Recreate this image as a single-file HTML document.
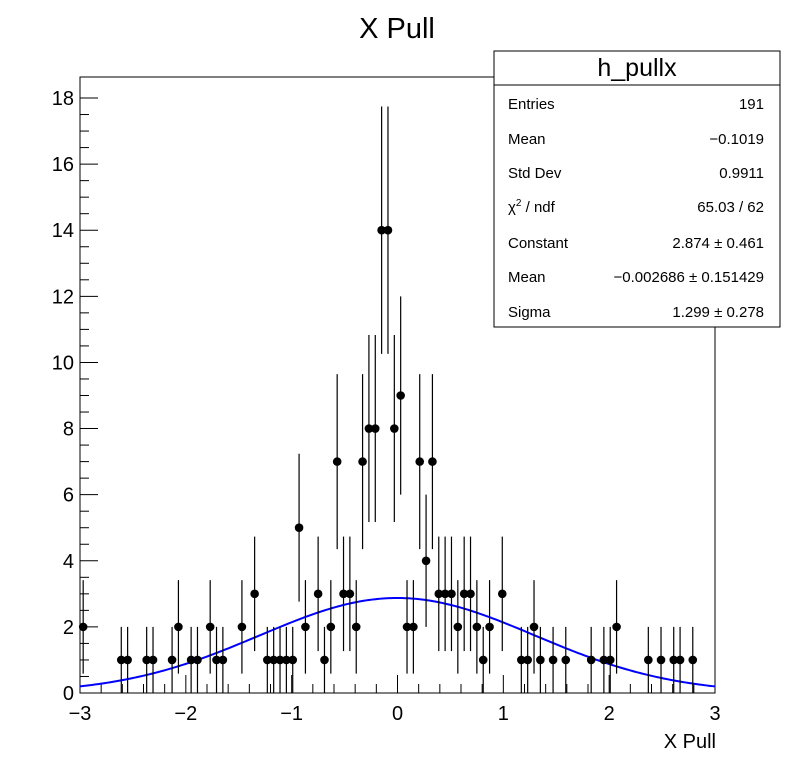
<!DOCTYPE html>
<html><head><meta charset="utf-8"><style>
body{margin:0;background:#fff;}
svg text{font-family:"Liberation Sans",sans-serif;}
</style></head><body>
<svg id="chart" width="796" height="772" viewBox="0 0 796 772" xmlns="http://www.w3.org/2000/svg">
<rect width="796" height="772" fill="#fff"/>
<text x="397" y="38" font-size="29" text-anchor="middle">X Pull</text>
<rect x="80" y="77" width="635" height="616" fill="none" stroke="#000" stroke-width="1"/>
<g id="axes"></g>
<g id="fit"></g>
<g id="points"></g>
<text x="716" y="748" font-size="20" text-anchor="end">X Pull</text>
<g>
<rect x="494" y="51" width="286" height="276" fill="#fff" stroke="#000"/>
<line x1="494" y1="85" x2="780" y2="85" stroke="#000"/>
<text x="637" y="76" font-size="25" text-anchor="middle">h_pullx</text>
<g font-size="15">
<text x="508" y="109">Entries</text><text x="764" y="109" text-anchor="end">191</text>
<text x="508" y="144">Mean</text><text x="764" y="144" text-anchor="end">−0.1019</text>
<text x="508" y="178">Std Dev</text><text x="764" y="178" text-anchor="end">0.9911</text>
<text x="508" y="212">χ<tspan font-size="10" dy="-6">2</tspan><tspan dy="6"> / ndf</tspan></text><text x="764" y="212" text-anchor="end">65.03 / 62</text>
<text x="508" y="248">Constant</text><text x="764" y="248" text-anchor="end">2.874 ± 0.461</text>
<text x="508" y="282">Mean</text><text x="764" y="282" text-anchor="end">−0.002686 ± 0.151429</text>
<text x="508" y="317">Sigma</text><text x="764" y="317" text-anchor="end">1.299 ± 0.278</text>
</g></g>
</svg>
<script>
const binIndex=[0,6,7,10,11,14,15,17,18,20,21,22,25,27,29,30,31,32,33,34,35,37,38,39,40,41,42,43,44,45,46,47,48,49,50,51,52,53,54,55,56,57,58,59,60,61,62,63,64,66,69,70,71,72,74,76,80,82,83,84,89,91,93,94,96];
const counts=[2,1,1,1,1,1,2,1,1,2,1,1,2,3,1,1,1,1,1,5,2,3,1,2,7,3,3,2,7,8,8,14,14,8,9,2,2,7,4,7,3,3,3,2,3,3,2,1,2,3,1,1,2,1,1,1,1,1,1,2,1,1,1,1,1];
const yTicks=[0,2,4,6,8,10,12,14,16,18];
const xTicks=[-3,-2,-1,0,1,2,3];
const fitConst=2.874, fitMean=-0.002686, fitSigma=1.299;
const NS='http://www.w3.org/2000/svg';
const X0=80,X1=715,Y0=693,Y1=98;
const sx=v=>X0+(v+3)/6*(X1-X0);
const sy=v=>Y0-v/18*(Y0-Y1);
function mk(t,a,p){const e=document.createElementNS(NS,t);for(const k in a)e.setAttribute(k,a[k]);p.appendChild(e);return e;}
const ax=document.getElementById('axes');
for(let v=0;v<=18.001;v+=0.5){const maj=Math.abs(v%2)<1e-6;const l=mk('line',{x1:X0,x2:X0+(maj?18:9),y1:sy(v),y2:sy(v),stroke:'#000'},ax);

}
yTicks.forEach(v=>{const t=mk('text',{x:74,y:sy(v)+7,'font-size':20,'text-anchor':'end'},ax);t.textContent=v;

});
for(let i=0;i<=30;i++){const v=-3+i*0.2;const maj=i%5===0;const l=mk('line',{x1:sx(v),x2:sx(v),y1:Y0,y2:Y0-(maj?18:9),stroke:'#000'},ax);

}
xTicks.forEach(v=>{const t=mk('text',{x:sx(v),y:720,'font-size':20,'text-anchor':'middle'},ax);t.textContent=(v<0?'−'+(-v):v);

});
const fg=document.getElementById('fit');let d='';
for(let i=0;i<=300;i++){const v=-3+i*0.02;const y=fitConst*Math.exp(-0.5*((v-fitMean)/fitSigma)**2);d+=(i?'L':'M')+sx(v).toFixed(2)+','+sy(y).toFixed(2);}
const fp=mk('path',{d:d,fill:'none',stroke:'#0000ff','stroke-width':2},fg);


const pg=document.getElementById('points');
binIndex.forEach((b,i)=>{const c=counts[i];const xv=-3+0.06*(b+0.5);const e=Math.sqrt(c);
const l=mk('line',{x1:sx(xv),x2:sx(xv),y1:sy(c+e),y2:sy(Math.max(0,c-e)),stroke:'#000','stroke-width':1.2},pg);


const p=mk('circle',{cx:sx(xv),cy:sy(c),r:4.3,fill:'#000'},pg);

});
</script>
</body></html>
